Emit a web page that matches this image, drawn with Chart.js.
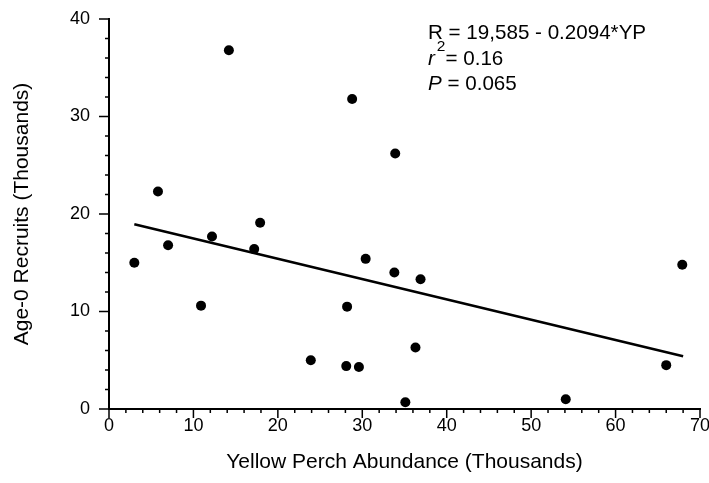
<!DOCTYPE html>
<html>
<head>
<meta charset="utf-8">
<script src="https://cdn.jsdelivr.net/npm/chart.js@4/dist/chart.umd.min.js"></script>
<style>
  html, body { margin: 0; padding: 0; background: #fff; }
  #wrap { width: 709px; height: 483px; position: relative; }
</style>
</head>
<body>
<div id="wrap"><canvas id="chart"></canvas></div>
<script>
// Yellow perch abundance vs age-0 recruits (thousands)
const perchAbundance = [3.0, 5.8, 7.0, 10.9, 12.2, 14.2, 17.2, 17.9, 23.9, 28.1, 28.2, 28.8, 29.6, 30.4, 33.8, 33.9, 35.1, 36.3, 36.9, 54.1, 66.0, 67.9];
const recruits       = [15.0, 22.3, 16.8, 10.6, 17.7, 36.8, 16.4, 19.1, 5.0, 4.4, 10.5, 31.8, 4.3, 15.4, 14.0, 26.2, 0.7, 6.3, 13.3, 1.0, 4.5, 14.8];

// fitted line, ends
const fitX = [3, 68];
const fitY = [18.95, 5.4];

const xTicks = [0, 10, 20, 30, 40, 50, 60, 70];
const yTicks = [0, 10, 20, 30, 40];

const TXT = '#000';
const FONT = '"Liberation Sans", Arial, sans-serif';

// major + minor ticks drawn from the scales
const tickMarks = {
    id: 'tickMarks',
    afterDraw(chart) {
        const ctx = chart.ctx;
        const xs = chart.scales.x, ys = chart.scales.y;
        const bottom = chart.chartArea.bottom, left = chart.chartArea.left;
        ctx.save();
        ctx.strokeStyle = '#000';
        ctx.lineWidth = 1.5;
        ctx.beginPath();
        for (let v = 0; v <= 70; v += 2) {
            const px = xs.getPixelForValue(v);
            const len = v % 10 === 0 ? 9 : 4;
            ctx.moveTo(px, bottom);
            ctx.lineTo(px, bottom + len);
        }
        for (let v = 0; v <= 40; v += 2) {
            const py = ys.getPixelForValue(v);
            const len = v % 10 === 0 ? 10 : 4;
            ctx.moveTo(left, py);
            ctx.lineTo(left - len, py);
        }
        ctx.stroke();
        ctx.restore();
    }
};

// regression text in the upper right
const statsText = {
    id: 'statsText',
    afterDraw(chart) {
        const ctx = chart.ctx;
        const x0 = 428;
        ctx.save();
        ctx.fillStyle = TXT;
        ctx.textBaseline = 'alphabetic';
        ctx.textAlign = 'left';
        ctx.font = '20.6px ' + FONT;
        ctx.fillText('R = 19,585 - 0.2094*YP', x0, 39);

        ctx.font = 'italic 20.6px ' + FONT;
        ctx.fillText('r', x0, 65);
        let x = x0 + ctx.measureText('r').width + 2;
        ctx.font = '15.5px ' + FONT;
        ctx.fillText('2', x, 51);
        x += ctx.measureText('2').width;
        ctx.font = '20.6px ' + FONT;
        ctx.fillText('= 0.16', x, 65);

        ctx.font = 'italic 20.6px ' + FONT;
        ctx.fillText('P', x0, 90);
        x = x0 + ctx.measureText('P').width;
        ctx.font = '20.6px ' + FONT;
        ctx.fillText(' = 0.065', x, 90);
        ctx.restore();
    }
};

const points = perchAbundance.map((v, i) => ({ x: v, y: recruits[i] }));
const fitLine = fitX.map((v, i) => ({ x: v, y: fitY[i] }));

new Chart(document.getElementById('chart'), {
    type: 'scatter',
    data: {
        datasets: [{
            label: 'Recruits',
            data: points,
            pointRadius: 5,
            pointHoverRadius: 5,
            backgroundColor: '#000',
            borderColor: '#000',
            borderWidth: 0,
            clip: false
        }, {
            label: 'Fit',
            type: 'line',
            data: fitLine,
            borderColor: '#000',
            borderWidth: 2.6,
            pointRadius: 0,
            fill: false,
            clip: false
        }]
    },
    options: {
        responsive: true,
        maintainAspectRatio: false,
        animation: false,
        events: [],
        layout: { padding: { top: 19, right: 9, left: 0, bottom: 0 } },
        plugins: {
            legend: { display: false },
            tooltip: { enabled: false }
        },
        scales: {
            x: {
                type: 'linear',
                min: 0,
                max: 70,
                afterBuildTicks: s => { s.ticks = xTicks.map(v => ({ value: v })); },
                afterFit: s => { s.height = 74; s.paddingLeft = 0; s.paddingRight = 0; },
                ticks: {
                    color: TXT,
                    font: { family: FONT, size: 18, lineHeight: 1 },
                    padding: 8,
                    maxRotation: 0,
                    autoSkip: false
                },
                grid: { display: true, drawOnChartArea: false, drawTicks: false },
                border: { display: true, color: '#000', width: 2 },
                title: {
                    display: true,
                    text: 'Yellow Perch Abundance (Thousands)',
                    color: TXT,
                    font: { family: FONT, size: 21 },
                    padding: { top: 0, bottom: 8 }
                }
            },
            y: {
                type: 'linear',
                min: 0,
                max: 40,
                afterBuildTicks: s => { s.ticks = yTicks.map(v => ({ value: v })); },
                afterFit: s => { s.width = 109; s.paddingTop = 0; s.paddingBottom = 0; },
                ticks: {
                    color: TXT,
                    font: { family: FONT, size: 18, lineHeight: 1 },
                    padding: 19,
                    autoSkip: false
                },
                grid: { display: true, drawOnChartArea: false, drawTicks: false },
                border: { display: true, color: '#000', width: 2 },
                title: {
                    display: true,
                    text: 'Age-0 Recruits (Thousands)',
                    color: TXT,
                    font: { family: FONT, size: 21 },
                    padding: { top: 10, bottom: 0 }
                }
            }
        }
    },
    plugins: [tickMarks, statsText]
});
</script>
</body>
</html>
